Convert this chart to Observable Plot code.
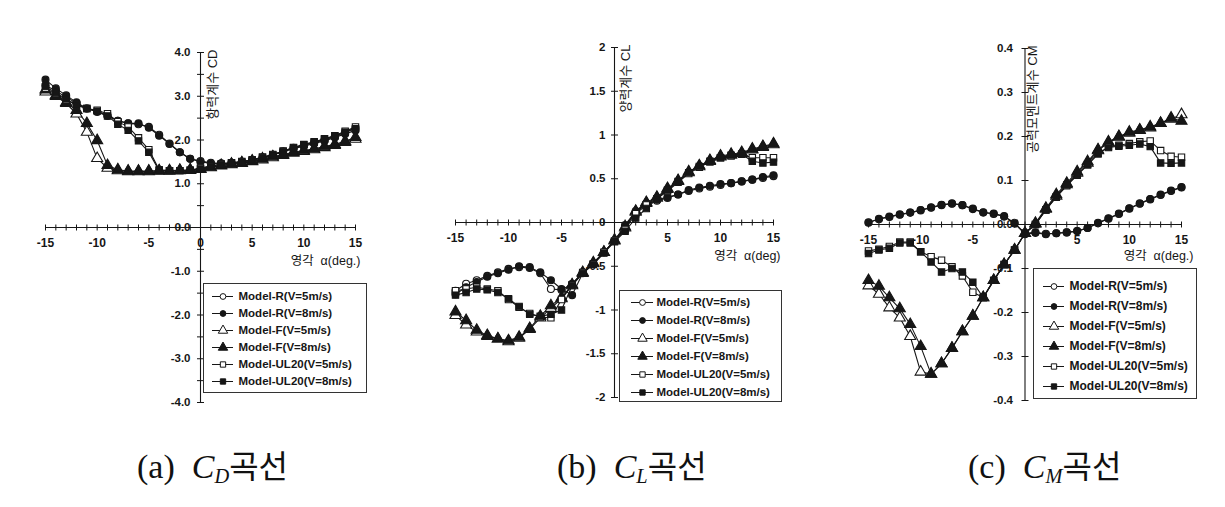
<!DOCTYPE html>
<html><head><meta charset="utf-8">
<script src="https://cdn.jsdelivr.net/npm/d3@7"></script>
<script src="https://cdn.jsdelivr.net/npm/@observablehq/plot@0.6"></script>
<style>
body{margin:0;background:#fff;width:1225px;height:507px;position:relative;overflow:hidden}
.box{position:absolute}
.legend{position:absolute;border:1px solid #333;background:#fff}
.cap{position:absolute;font-family:"Liberation Serif","DejaVu Serif",serif;font-size:34px;color:#111;white-space:nowrap;line-height:1}
.cap i{font-style:italic}
.cap sub{font-size:0.6em;vertical-align:-0.25em}
.cap .k{font-family:"Noto Sans CJK KR",sans-serif;font-size:32px}
</style></head><body>
<script>
// ---------- data ----------
const angles = [-15,-14,-13,-12,-11,-10,-9,-8,-7,-6,-5,-4,-3,-2,-1,0,1,2,3,4,5,6,7,8,9,10,11,12,13,14,15];
const seriesNames = ["Model-R(V=5m/s)","Model-R(V=8m/s)","Model-F(V=5m/s)","Model-F(V=8m/s)","Model-UL20(V=5m/s)","Model-UL20(V=8m/s)"];

// (a) drag coefficient CD
const cdR5  = [3.25,3.12,2.98,2.84,2.72,2.64,2.55,2.44,2.38,2.36,2.30,2.12,1.92,1.72,1.57,1.52,1.48,1.47,1.48,1.50,1.55,1.60,1.66,1.74,1.82,1.88,1.94,2.00,2.08,2.18,2.28];
const cdR8  = [3.38,3.18,3.02,2.86,2.72,2.66,2.56,2.44,2.38,2.38,2.28,2.10,1.91,1.72,1.57,1.50,1.47,1.46,1.47,1.50,1.54,1.59,1.65,1.73,1.80,1.86,1.92,1.98,2.06,2.14,2.22];
const cdF5  = [3.10,3.00,2.84,2.60,2.18,1.58,1.36,1.30,1.28,1.28,1.28,1.29,1.29,1.30,1.31,1.33,1.37,1.41,1.44,1.47,1.51,1.55,1.60,1.65,1.70,1.74,1.78,1.83,1.88,1.95,2.02];
const cdF8  = [3.15,3.02,2.86,2.68,2.38,1.99,1.42,1.32,1.29,1.29,1.29,1.30,1.30,1.31,1.32,1.34,1.38,1.42,1.45,1.48,1.52,1.57,1.62,1.67,1.72,1.76,1.80,1.85,1.90,1.97,2.06];
const cdU5  = [3.18,3.06,2.92,2.80,2.72,2.68,2.60,2.42,2.30,2.05,1.78,1.32,1.30,1.30,1.31,1.36,1.41,1.45,1.48,1.51,1.55,1.61,1.67,1.75,1.83,1.90,1.96,2.03,2.10,2.20,2.30];
const cdU8  = [3.22,3.08,2.94,2.80,2.72,2.66,2.55,2.36,2.22,1.98,1.72,1.30,1.30,1.30,1.31,1.34,1.40,1.44,1.47,1.50,1.54,1.60,1.66,1.74,1.82,1.89,1.95,2.02,2.09,2.18,2.26];

// (b) lift coefficient CL
const clR5  = [-0.78,-0.70,-0.66,-0.61,-0.57,-0.53,-0.51,-0.52,-0.58,-0.76,-0.77,-0.70,-0.57,-0.47,-0.34,-0.21,-0.05,0.12,0.21,0.25,0.28,0.32,0.36,0.39,0.41,0.43,0.45,0.47,0.49,0.51,0.53];
const clR8  = [-0.82,-0.74,-0.68,-0.62,-0.58,-0.54,-0.50,-0.51,-0.57,-0.66,-0.76,-0.83,-0.58,-0.47,-0.34,-0.21,-0.03,0.13,0.22,0.26,0.29,0.32,0.37,0.40,0.42,0.44,0.45,0.47,0.49,0.52,0.54];
const clF5  = [-1.06,-1.17,-1.25,-1.30,-1.33,-1.36,-1.32,-1.22,-1.09,-0.98,-0.87,-0.72,-0.58,-0.47,-0.34,-0.21,-0.06,0.12,0.22,0.28,0.38,0.47,0.57,0.64,0.70,0.75,0.77,0.79,0.83,0.86,0.89];
const clF8  = [-1.02,-1.12,-1.23,-1.29,-1.33,-1.35,-1.31,-1.21,-1.07,-0.95,-0.86,-0.71,-0.57,-0.46,-0.34,-0.20,-0.05,0.13,0.23,0.29,0.39,0.48,0.58,0.65,0.71,0.76,0.78,0.80,0.84,0.87,0.90];
const clU5  = [-0.78,-0.76,-0.74,-0.76,-0.78,-0.88,-0.97,-1.04,-1.08,-1.09,-0.88,-0.71,-0.57,-0.47,-0.34,-0.21,-0.08,0.10,0.20,0.27,0.36,0.46,0.56,0.63,0.69,0.74,0.76,0.78,0.74,0.74,0.74];
const clU8  = [-0.83,-0.80,-0.76,-0.77,-0.80,-0.87,-0.96,-1.05,-1.07,-1.05,-1.00,-0.72,-0.58,-0.48,-0.35,-0.22,-0.10,0.05,0.16,0.27,0.37,0.47,0.57,0.64,0.70,0.74,0.77,0.78,0.70,0.68,0.69];

// (c) moment coefficient CM
const cmR5  = [0.005,0.012,0.017,0.022,0.027,0.032,0.038,0.044,0.047,0.044,0.036,0.028,0.024,0.018,0.004,-0.020,-0.018,-0.021,-0.020,-0.018,-0.015,-0.008,0.003,0.013,0.024,0.036,0.047,0.057,0.067,0.076,0.084];
const cmR8  = [0.004,0.013,0.018,0.023,0.027,0.033,0.039,0.045,0.048,0.044,0.035,0.027,0.025,0.019,0.002,-0.022,-0.019,-0.022,-0.020,-0.018,-0.015,-0.008,0.004,0.014,0.025,0.037,0.048,0.058,0.068,0.077,0.085];
const cmF5  = [-0.139,-0.158,-0.189,-0.212,-0.254,-0.335,-0.340,-0.316,-0.281,-0.243,-0.208,-0.166,-0.127,-0.091,-0.058,-0.020,0.001,0.035,0.065,0.091,0.117,0.140,0.168,0.186,0.199,0.208,0.214,0.220,0.230,0.240,0.250];
const cmF8  = [-0.127,-0.140,-0.166,-0.191,-0.227,-0.277,-0.340,-0.316,-0.281,-0.243,-0.208,-0.166,-0.127,-0.091,-0.058,-0.020,0.003,0.037,0.068,0.094,0.120,0.143,0.170,0.188,0.200,0.210,0.215,0.222,0.230,0.242,0.235];
const cmU5  = [-0.060,-0.056,-0.050,-0.040,-0.040,-0.062,-0.073,-0.081,-0.096,-0.117,-0.154,-0.166,-0.127,-0.091,-0.058,-0.020,0.000,0.033,0.062,0.088,0.112,0.135,0.160,0.177,0.180,0.184,0.188,0.190,0.168,0.155,0.153];
const cmU8  = [-0.066,-0.058,-0.054,-0.042,-0.042,-0.062,-0.085,-0.108,-0.100,-0.108,-0.131,-0.166,-0.127,-0.091,-0.058,-0.020,0.000,0.033,0.063,0.090,0.113,0.137,0.162,0.175,0.178,0.180,0.183,0.177,0.140,0.139,0.140];

// ticks / labels
const xLabelsA = [-15,-10,-5,0,5,10,15];
const xLabelsBC = [-15,-10,-5,5,10,15];
const yTicksA = [4,3.5,3,2.5,2,1.5,1,0.5,0,-0.5,-1,-1.5,-2,-2.5,-3,-3.5,-4];
const yLabelsA = [4,3,2,1,0,-1,-2,-3,-4];
const yTicksB = [2,1.5,1,0.5,0,-0.5,-1,-1.5,-2];
const yTicksC = [0.4,0.3,0.2,0.1,0,-0.1,-0.2,-0.3,-0.4];
const xTitle = "영각  α(deg.)";
const xTitleB = "영각  α(deg)";
const yTitles = ["항력계수 CD","양력계수 CL","공력모멘트계수 CM"];
const captions = [["(a)","C","D"],["(b)","C","L"],["(c)","C","M"]];

// ---------- drawing ----------
const ink = "#161616";
const FONT = '"Liberation Sans", Arial, "Noto Sans CJK KR", sans-serif';
const symbols = ["circle","circle","triangle","triangle","square","square"];
const fills = ["white", ink, "white", ink, "white", ink];
const sizes = [3.5,3.5,4.1,4.1,3.6,3.6];
const vtick = {draw(ctx, size){const r=Math.sqrt(size/Math.PI); ctx.moveTo(0,-r); ctx.lineTo(0,r);}};
const htick = {draw(ctx, size){const r=Math.sqrt(size/Math.PI); ctx.moveTo(-r,0); ctx.lineTo(r,0);}};

function makePanel(p) {
  const rows = p.series.flatMap((vals, si) => vals.map((v, i) => ({a: angles[i], v, s: seriesNames[si]})));
  const plot = Plot.plot({
    width: p.w, height: 420,
    marginLeft: p.ml, marginRight: p.mr, marginTop: p.mt, marginBottom: p.mb,
    x: {domain: [-15, 15], axis: null},
    y: {domain: p.yDomain, axis: null},
    style: {overflow: "visible", background: "transparent", fontFamily: FONT, fontSize: "11.5px", color: ink},
    marks: [
      Plot.ruleY([0], {stroke: ink, strokeWidth: 1.1}),
      Plot.ruleX([0], {stroke: ink, strokeWidth: 1.1}),
      Plot.dot(angles, {x: d => d, y: 0, symbol: vtick, r: 3, stroke: ink, fill: "none", strokeWidth: 1}),
      Plot.dot(p.yTicks, {x: 0, y: d => d, symbol: htick, r: 3.5, stroke: ink, fill: "none", strokeWidth: 1}),
      Plot.text(p.xLabels, {x: d => d, y: 0, dy: 16, text: d => String(d), fill: ink, fontWeight: 600, fontSize: 12}),
      Plot.text(p.yLabels, {x: 0, y: d => d, dx: p.ylDx, textAnchor: "end", text: p.fmt, fill: ink, fontWeight: 600}),
      Plot.text([p.yTitle], {x: 0, y: p.yDomain[1], dx: p.ytDx, dy: -3, rotate: -90, textAnchor: "end", text: d => d, fill: ink, fontSize: 13}),
      Plot.text([p.xTitle], {x: 15, y: 0, dx: p.xtDx, dy: p.xtDy, textAnchor: "end", text: d => d, fill: ink, fontSize: 12.5}),
      Plot.line(rows, {x: "a", y: "v", z: "s", stroke: ink, strokeWidth: 1.1}),
      ...seriesNames.map((name, si) => Plot.dot(rows.filter(r => r.s === name),
        {x: "a", y: "v", symbol: symbols[si], r: sizes[si], fill: fills[si], stroke: ink, strokeWidth: 1.1}))
    ]
  });
  const div = document.createElement("div");
  div.className = "box";
  div.style.left = p.left + "px"; div.style.top = "0px"; div.style.width = p.w + "px";
  div.appendChild(plot);
  document.body.appendChild(div);
}

function makeLegend(L) {
  const plot = Plot.plot({
    width: L.w, height: L.h, marginTop: L.mt, marginBottom: L.mb, marginLeft: 0, marginRight: 0,
    x: {domain: [0, 1], axis: null},
    y: {type: "point", domain: seriesNames, axis: null, padding: 0.5},
    style: {overflow: "visible", background: "transparent", fontFamily: FONT, fontSize: L.fs + "px", color: ink},
    marks: [
      Plot.tickY(seriesNames, {y: d => d, stroke: ink, strokeWidth: 1, insetLeft: L.s0, insetRight: L.w - L.s1}),
      ...seriesNames.map((n, i) => Plot.dot([n], {y: d => d, frameAnchor: "left", dx: (L.s0 + L.s1) / 2,
        symbol: symbols[i], r: sizes[i] - 0.6, fill: fills[i], stroke: ink, strokeWidth: 1})),
      Plot.text(seriesNames, {y: d => d, frameAnchor: "left", dx: L.tx, textAnchor: "start", text: d => d, fill: ink, fontWeight: 600})
    ]
  });
  const div = document.createElement("div");
  div.className = "legend";
  div.style.left = L.left + "px"; div.style.top = L.top + "px";
  div.style.width = L.w + "px"; div.style.height = L.h + "px";
  div.appendChild(plot);
  document.body.appendChild(div);
}

makePanel({left: 0, w: 420, ml: 45, mr: 65, mt: 52, mb: 18, yDomain: [-4, 4],
  series: [cdR5, cdR8, cdF5, cdF8, cdU5, cdU8], xLabels: xLabelsA, yTicks: yTicksA, yLabels: yLabelsA,
  fmt: d => d.toFixed(1), ylDx: -10, yTitle: yTitles[0], ytDx: 12, xTitle: xTitle, xtDx: 5, xtDy: 33});
makePanel({left: 420, w: 400, ml: 35, mr: 47, mt: 47, mb: 23, yDomain: [-2, 2],
  series: [clR5, clR8, clF5, clF8, clU5, clU8], xLabels: xLabelsBC, yTicks: yTicksB, yLabels: yTicksB,
  fmt: d => String(d), ylDx: -9, yTitle: yTitles[1], ytDx: 11, xTitle: xTitleB, xtDx: 7, xtDy: 33});
makePanel({left: 820, w: 405, ml: 48, mr: 44, mt: 48, mb: 20, yDomain: [-0.4, 0.4],
  series: [cmR5, cmR8, cmF5, cmF8, cmU5, cmU8], xLabels: xLabelsBC, yTicks: yTicksC, yLabels: yTicksC,
  fmt: d => d.toFixed(1), ylDx: -12, yTitle: yTitles[2], ytDx: 8, xTitle: xTitle, xtDx: 12, xtDy: 31});

makeLegend({left: 203, top: 283, w: 162, h: 108, mt: 1, mb: 0, s0: 8, s1: 29, tx: 34, fs: 11.5});
makeLegend({left: 619, top: 290, w: 161, h: 110, mt: 1, mb: 0, s0: 11, s1: 33, tx: 36, fs: 11.5});
makeLegend({left: 1033, top: 268, w: 162, h: 129, mt: 4, mb: 0, s0: 9, s1: 30, tx: 35, fs: 12});

const capLeft = [137, 557, 968];
captions.forEach((c, i) => {
  const d = document.createElement("div");
  d.className = "cap";
  d.style.left = capLeft[i] + "px"; d.style.top = "448px";
  d.innerHTML = `${c[0]}&nbsp;&nbsp;<i>${c[1]}<sub>${c[2]}</sub></i><span class="k">곡선</span>`;
  document.body.appendChild(d);
});
</script>
</body></html>
